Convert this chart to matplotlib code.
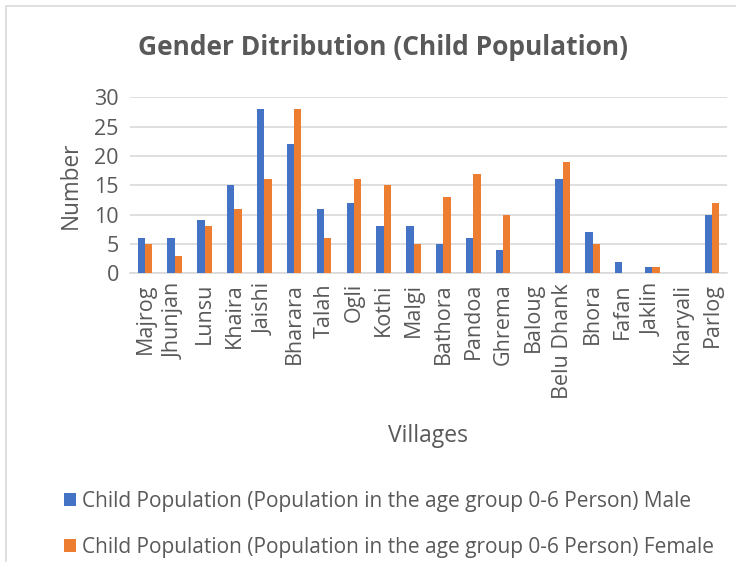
import numpy as np
import matplotlib.pyplot as plt
from matplotlib.patches import Rectangle

villages = ['Majrog', 'Jhunjan', 'Lunsu', 'Khaira', 'Jaishi', 'Bharara', 'Talah',
            'Ogli', 'Kothi', 'Malgi', 'Bathora', 'Pandoa', 'Ghrema', 'Baloug',
            'Belu Dhank', 'Bhora', 'Fafan', 'Jaklin', 'Kharyali', 'Parlog']
male = [6, 6, 9, 15, 28, 22, 11, 12, 8, 8, 5, 6, 4, 0, 16, 7, 2, 1, 0, 10]
female = [5, 3, 8, 11, 16, 28, 6, 16, 15, 5, 13, 17, 10, 0, 19, 5, 0, 1, 0, 12]
yticks = [0, 5, 10, 15, 20, 25, 30]

plt.rcParams['font.family'] = ['Open Sans', 'DejaVu Sans']
txt = '#595959'

fig = plt.figure(figsize=(7.36, 5.62), dpi=100)
fig.patches.append(Rectangle((0.008, -0.01), 1.0, 1.0, transform=fig.transFigure,
                             fill=False, edgecolor='#D9D9D9', linewidth=1.2))
ax = fig.add_axes([0.1766, 0.5137, 0.811, 0.3132])

x = np.arange(len(villages))
w = 0.245
ax.bar(x - w/2, male, w, color='#4472C4', zorder=3,
       label='Child Population (Population in the age group 0-6 Person) Male')
ax.bar(x + w/2, female, w, color='#ED7D31', zorder=3,
       label='Child Population (Population in the age group 0-6 Person) Female')

ax.set_xlim(-0.5, len(villages) - 0.5)
ax.set_ylim(0, 30)
ax.set_yticks(yticks)
ax.set_xticks(x)
ax.set_xticklabels(villages, rotation=90, fontsize=15.5, color=txt)
ax.tick_params(axis='y', labelsize=15.5, labelcolor=txt, length=0, pad=8)
ax.tick_params(axis='x', length=0, pad=7)
ax.grid(axis='y', color='#D9D9D9', linewidth=1.2, zorder=0)
for s in ['top', 'right', 'left']:
    ax.spines[s].set_visible(False)
ax.spines['bottom'].set_color('#D9D9D9')
ax.spines['bottom'].set_linewidth(1.2)

ax.set_ylabel('Number', fontsize=16.3, color=txt, labelpad=8)
ax.set_xlabel('Villages', fontsize=16.5, color=txt, labelpad=18)
fig.text(0.52, 0.915, 'Gender Ditribution (Child Population)', ha='center', va='center',
         fontsize=19, fontweight='bold', color=txt)

fig.legend(loc='upper left', bbox_to_anchor=(0.062, 0.16), frameon=False, fontsize=15,
           labelcolor=txt, handlelength=0.55, handleheight=0.55, handletextpad=0.3,
           labelspacing=1.2)

fig.savefig('out.png', dpi=100)
